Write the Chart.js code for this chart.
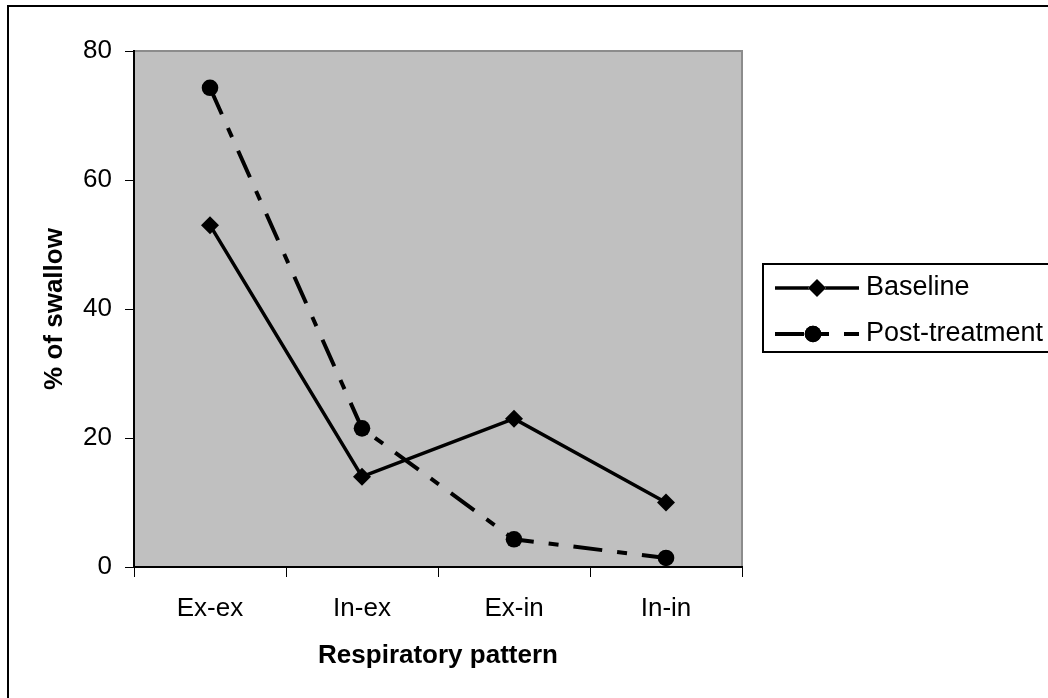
<!DOCTYPE html>
<html>
<head>
<meta charset="utf-8">
<title>Respiratory pattern</title>
<script src="https://cdn.jsdelivr.net/npm/chart.js@4.4.1/dist/chart.umd.min.js"></script>
<style>
  html, body { margin: 0; padding: 0; background: #fff; overflow: hidden; }
  canvas { display: block; }
</style>
</head>
<body>
<canvas id="chart" width="1048" height="698"></canvas>
<script>
// respiratory pattern around the swallow, % of swallows
const patterns = ['Ex-ex', 'In-ex', 'Ex-in', 'In-in'];
const baseline = [53, 14, 23, 10];
const postTreatment = [74.3, 21.5, 4.3, 1.4];
const yTicks = [0, 20, 40, 60, 80];

const FONT = "'Liberation Sans', Arial, sans-serif";

// grey plot area, thin grey edge and the page frame
const plotBackground = {
  id: 'plotBackground',
  beforeDraw(chart) {
    const { ctx, chartArea: a } = chart;
    ctx.save();
    ctx.fillStyle = '#fff';
    ctx.fillRect(0, 0, chart.width, chart.height);
    ctx.lineWidth = 2;
    ctx.strokeStyle = '#000';
    ctx.strokeRect(8, 6, chart.width + 20, chart.height + 20);
    ctx.fillStyle = '#c0c0c0';
    ctx.fillRect(a.left, a.top, a.right - a.left, a.bottom - a.top);
    ctx.strokeStyle = '#8c8c8c';
    ctx.strokeRect(a.left, a.top, a.right - a.left, a.bottom - a.top);
    ctx.restore();
  }
};

// boxed legend with a line sample and marker for each series
const boxedLegend = {
  id: 'boxedLegend',
  afterDraw(chart) {
    const ctx = chart.ctx;
    const x0 = 763, y0 = 264, rowH = 46;
    ctx.save();
    ctx.fillStyle = '#fff';
    ctx.fillRect(x0, y0, 400, 88);
    ctx.lineWidth = 2;
    ctx.strokeStyle = '#000';
    ctx.strokeRect(x0, y0, 400, 88);
    chart.data.datasets.forEach((ds, i) => {
      const y = y0 + 24 + i * rowH;
      ctx.lineWidth = ds.borderWidth;
      ctx.strokeStyle = ds.borderColor;
      ctx.setLineDash(ds.borderDash || []);
      ctx.beginPath();
      ctx.moveTo(775, y);
      ctx.lineTo(859, y);
      ctx.stroke();
      ctx.setLineDash([]);
      Chart.helpers.drawPoint(ctx, {
        pointStyle: ds.pointStyle,
        radius: ds.pointRadius,
        borderWidth: 0,
        rotation: 0
      }, ds.pointStyle === 'circle' ? 813 : 817, y);
      ctx.fillStyle = '#000';
      ctx.fill();
      ctx.font = '27px ' + FONT;
      ctx.textBaseline = 'middle';
      ctx.fillText(ds.label, 866, y);
    });
    ctx.restore();
  }
};

new Chart(document.getElementById('chart'), {
  type: 'line',
  data: {
    labels: patterns,
    datasets: [
      {
        label: 'Baseline',
        data: baseline,
        borderColor: '#000',
        backgroundColor: '#000',
        borderWidth: 3.5,
        pointStyle: 'rectRot',
        pointRadius: 9,
        pointBorderWidth: 0,
        tension: 0
      },
      {
        label: 'Post-treatment',
        data: postTreatment,
        borderColor: '#000',
        backgroundColor: '#000',
        borderWidth: 4,
        borderDash: [29, 15, 10, 15],
        pointStyle: 'circle',
        pointRadius: 8.3,
        pointBorderWidth: 0,
        tension: 0
      }
    ]
  },
  options: {
    responsive: false,
    animation: false,
    layout: { padding: { left: 0, top: 51, right: 306, bottom: 0 } },
    plugins: {
      legend: { display: false },
      tooltip: { enabled: false }
    },
    scales: {
      x: {
        offset: true,
        grid: { offset: true, drawOnChartArea: false, tickLength: 10, color: '#000', lineWidth: 1 },
        border: { color: '#000', width: 2 },
        ticks: { padding: 16, color: '#000', font: { family: FONT, size: 26 } },
        title: {
          display: true,
          text: 'Respiratory pattern',
          color: '#000',
          font: { family: FONT, size: 26, weight: 'bold' },
          padding: { top: 0, bottom: 27 }
        },
        afterFit(scale) { scale.height = 131; }
      },
      y: {
        min: yTicks[0],
        max: yTicks[yTicks.length - 1],
        afterBuildTicks(scale) { scale.ticks = yTicks.map(v => ({ value: v })); },
        grid: { drawOnChartArea: false, tickLength: 9, color: '#000', lineWidth: 1 },
        border: { color: '#000', width: 2 },
        ticks: { padding: 13, color: '#000', font: { family: FONT, size: 26 } },
        title: {
          display: true,
          text: '% of swallow',
          color: '#000',
          font: { family: FONT, size: 26, weight: 'bold' },
          padding: { top: 39, bottom: 0 }
        },
        afterFit(scale) { scale.width = 134; }
      }
    }
  },
  plugins: [plotBackground, boxedLegend]
});
</script>
</body>
</html>
